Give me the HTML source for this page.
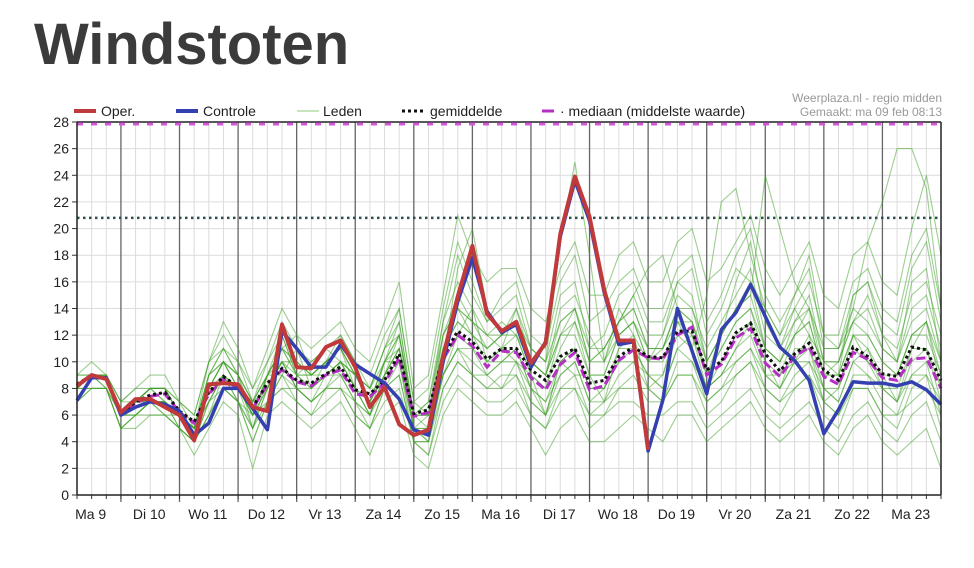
<!DOCTYPE html>
<html><head><meta charset="utf-8">
<style>
body{margin:0;background:#fff;width:974px;height:568px;overflow:hidden;font-family:"Liberation Sans",sans-serif}
h1{position:absolute;left:34px;top:11px;margin:0;font-size:58px;font-weight:bold;color:#3b3b3b}
svg{position:absolute;left:0;top:0}
</style></head><body>
<h1>Windstoten</h1>
<svg id="c" width="974" height="568"></svg>
<script>
const dayLabels=["Ma 9","Di 10","Wo 11","Do 12","Vr 13","Za 14","Zo 15","Ma 16","Di 17","Wo 18","Do 19","Vr 20","Za 21","Zo 22","Ma 23"];
const yTicks=[0,2,4,6,8,10,12,14,16,18,20,22,24,26,28];
const threshold=20.8;
const oper=[8.2,9.0,8.7,6.2,7.2,7.2,6.6,6.0,4.1,8.3,8.4,8.3,6.6,6.3,12.8,9.6,9.5,11.1,11.6,9.6,6.6,8.1,5.3,4.5,4.9,10.4,14.9,18.7,13.6,12.3,13.0,9.9,11.4,19.6,23.9,20.9,15.4,11.6,11.6,3.4];
const controle=[7.1,8.8,8.8,6.0,6.6,7.0,6.8,6.3,4.5,5.4,8.0,8.0,6.5,4.9,12.3,11.0,9.6,9.6,11.3,9.8,9.1,8.4,7.2,4.9,4.5,10.0,14.5,17.8,13.8,12.2,12.8,9.6,11.5,19.4,23.6,20.6,15.2,11.3,11.5,3.3,7.1,14.0,10.8,7.6,12.4,13.7,15.8,13.4,11.1,10.1,8.6,4.6,6.4,8.5,8.4,8.4,8.2,8.5,7.9,6.8];
const gemiddelde=[8.3,9.0,8.7,6.1,7.0,7.5,7.7,6.3,5.5,7.7,8.9,8.1,6.6,8.4,9.5,8.6,8.4,9.1,9.6,7.9,7.6,8.6,10.6,6.1,6.4,10.4,12.3,11.5,10.2,11.0,11.0,9.4,8.6,10.4,11.0,8.4,8.6,10.4,11.1,10.4,10.3,12.3,12.3,9.4,10.0,12.2,12.9,10.6,9.3,10.6,11.4,9.4,8.6,11.1,10.4,9.1,8.9,11.1,10.9,8.6];
const mediaan=[8.2,8.9,8.7,6.1,6.9,7.4,7.6,6.2,5.4,7.6,8.7,8.0,6.5,8.3,9.4,8.5,8.2,9.0,9.4,7.6,7.4,8.4,10.3,5.9,6.2,10.2,12.0,11.2,9.6,10.8,10.7,8.8,7.9,9.8,10.7,7.9,8.2,10.1,10.9,10.3,10.2,12.0,12.6,9.0,9.8,11.8,12.5,9.9,8.9,10.4,11.1,8.9,8.3,10.7,10.2,8.8,8.6,10.2,10.3,8.0];
const member1=[8,9,9,6,7,8,8,6,5,9,11,9,7,9,11,10,9,10,11,9,8,11,13,6,7,13,16,14,12,13,12,10,9,13,14,10,11,13,15,12,12,15,14,11,13,15,17,12,11,13,15,10,10,14,13,11,10,14,15,11];
const member2=[8,9,9,6,6,7,7,5,4,7,8,7,6,7,8,8,7,8,8,6,5,8,9,4,4,8,10,9,8,9,9,7,6,8,8,6,7,8,8,8,7,9,9,7,8,9,10,8,7,8,9,7,6,8,8,6,6,7,8,6];
const member3=[9,10,9,7,8,9,9,7,6,10,12,10,8,10,13,11,10,11,12,10,9,12,14,7,8,14,19,16,13,15,16,12,11,16,18,13,14,16,17,14,14,17,18,13,15,18,20,15,13,15,18,12,12,16,17,14,13,18,20,14];
const member4=[8,8,8,5,6,7,6,6,4,6,9,7,5,8,10,8,7,9,10,8,6,9,11,5,5,9,11,10,9,10,11,8,7,9,10,7,8,10,10,9,8,11,10,8,9,10,11,9,8,10,10,8,7,10,9,8,7,9,9,7];
const member5=[8,9,9,6,7,8,8,6,5,8,10,8,6,9,12,9,9,10,11,8,7,10,12,5,6,11,13,12,11,12,12,9,8,11,13,9,9,12,13,11,11,14,13,9,11,13,14,11,10,12,13,9,9,12,11,9,9,12,12,9];
const member6=[8,9,8,6,7,7,7,6,5,8,9,8,7,8,10,9,8,9,10,8,7,9,11,6,6,10,17,20,14,12,14,11,10,19,25,18,10,12,13,10,11,13,12,9,12,14,16,11,10,12,14,9,10,13,12,10,9,12,13,10];
const member7=[8,9,9,6,7,8,7,6,5,9,10,8,6,9,11,9,9,9,10,9,8,10,12,6,6,11,14,12,11,12,13,10,9,12,13,10,11,13,15,17,18,14,11,15,22,23,18,14,12,14,16,12,11,13,15,12,11,15,16,12];
const member8=[8,9,9,6,7,8,8,6,5,8,10,9,7,9,11,10,9,10,11,9,8,11,12,6,7,12,14,13,11,12,13,11,10,13,14,11,11,13,14,11,11,14,13,10,12,14,15,24,20,16,14,11,11,14,19,22,26,26,23,14];
const member9=[7,8,8,5,5,6,6,5,3,5,7,6,2,6,7,6,5,6,7,5,3,6,7,3,2,6,8,7,6,6,7,5,3,5,6,4,4,5,6,5,4,6,6,4,5,6,7,5,4,5,6,4,3,5,6,4,3,4,5,2];
const member10=[8,9,9,6,7,7,7,6,5,7,9,8,6,8,10,8,8,9,9,8,6,9,10,5,5,9,12,11,10,10,11,8,7,10,11,8,8,10,11,9,9,12,11,8,9,11,13,9,9,10,12,8,8,11,10,8,8,11,11,8];
const member11=[9,9,9,7,8,8,8,7,6,10,13,11,8,11,14,12,11,12,13,11,10,13,16,8,9,15,21,18,16,17,17,14,13,17,19,15,15,18,19,16,16,19,20,16,17,19,21,17,15,17,19,15,14,18,19,16,15,20,24,18];
const member12=[7,8,8,5,6,6,6,5,4,6,8,7,4,7,8,7,6,7,8,6,5,7,8,4,3,7,9,8,7,7,8,6,5,7,8,5,6,7,7,6,6,7,7,5,6,7,8,6,5,6,7,5,4,6,7,5,4,6,7,4];
const member13=[8,9,9,6,6,7,7,6,4,8,10,9,5,9,9,11,8,10,9,7,6,10,10,4,4,10,12,14,10,11,10,9,6,10,9,9,7,11,12,8,9,13,11,8,10,12,13,10,8,11,11,7,8,12,10,9,7,11,13,8];
const member14=[8,9,8,6,7,8,8,6,5,9,11,10,7,10,12,9,10,11,10,9,7,9,12,6,5,12,15,13,12,11,14,10,9,14,15,12,10,14,12,10,12,16,15,10,12,16,19,13,11,14,12,10,9,15,16,12,10,16,17,10];
const member15=[8,9,9,6,7,7,7,6,5,7,9,7,5,7,9,7,6,8,9,7,6,8,10,5,4,9,11,9,9,8,10,7,6,9,10,7,7,9,10,8,7,10,10,7,8,10,11,8,7,9,10,7,6,9,9,7,6,9,10,6];
const member16=[9,9,9,6,7,8,8,7,5,10,11,9,6,8,11,12,9,10,12,10,8,11,14,7,6,13,18,15,13,14,15,11,10,15,16,11,12,15,16,13,13,16,17,12,14,17,16,14,12,15,17,11,11,15,16,13,12,17,19,13];
const member17=[7,9,9,6,6,7,6,5,4,7,9,8,5,8,10,8,7,8,10,8,6,9,11,5,4,9,11,11,9,10,10,8,6,10,11,8,8,11,11,9,8,11,12,8,9,11,12,9,8,10,11,8,7,10,11,8,7,10,11,7];
const member18=[8,9,9,6,7,8,7,6,5,8,10,8,6,9,11,9,8,9,10,9,7,10,11,6,6,11,13,12,10,11,12,9,8,12,12,9,9,12,13,10,10,13,13,9,11,13,14,10,9,12,13,9,9,12,12,10,9,12,13,9];
const member19=[8,9,9,7,7,8,8,6,5,9,10,9,7,9,10,10,9,10,11,9,7,10,13,6,6,12,14,13,12,12,13,10,9,12,14,10,10,13,14,11,11,14,14,10,12,14,15,11,10,13,14,10,10,13,14,11,10,13,14,10];
const member20=[8,8,8,5,6,7,7,5,4,6,8,7,4,7,9,8,7,8,8,7,5,8,9,4,3,8,10,9,8,8,9,6,5,8,9,6,6,8,9,7,7,9,9,6,7,9,10,7,6,8,9,6,5,8,8,6,5,8,9,5];
const members=[member1,member2,member3,member4,member5,member6,member7,member8,member9,member10,member11,member12,member13,member14,member15,member16,member17,member18,member19,member20];

const NS="http://www.w3.org/2000/svg";
const svgEl=document.getElementById('c');
const X0=77,X1=941,Y0=495,Y1=122,N=60,YMAX=28;
const stepX=(X1-X0)/(N-1);
function xs(i){return X0+i*stepX;}
function ys(v){return Y0-(v/YMAX)*(Y0-Y1);}
function mk(tag,attrs){const e=document.createElementNS(NS,tag);for(const k in attrs)e.setAttribute(k,attrs[k]);svgEl.appendChild(e);return e;}

for(let i=0;i<N;i++){const l=mk('line',{x1:xs(i),x2:xs(i),y1:Y1,y2:Y0,stroke:'#dcdcdc','stroke-width':1});

}
yTicks.forEach(v=>{const l=mk('line',{x1:X0,x2:X1,y1:ys(v),y2:ys(v),stroke:'#dcdcdc','stroke-width':1});


const t=mk('line',{x1:X0-5,x2:X0,y1:ys(v),y2:ys(v),stroke:'#333','stroke-width':1});


const tx=mk('text',{x:X0-8,y:ys(v)+5,'text-anchor':'end','font-size':14,fill:'#222'});tx.textContent=v;

});
for(let d=1;d<dayLabels.length;d++){const i=d*4-1;const l=mk('line',{x1:xs(i),x2:xs(i),y1:Y1,y2:Y0+7,stroke:'#666','stroke-width':1.3});

}
dayLabels.forEach((lab,d)=>{const i=d*4+1;const t=mk('text',{x:xs(i)-1,y:519,'text-anchor':'middle','font-size':14,fill:'#222'});t.textContent=lab;

});
for(let i=0;i<N;i++){const t=mk('line',{x1:xs(i),x2:xs(i),y1:Y0,y2:Y0+4,stroke:'#333','stroke-width':1});

}

function pathD(arr){return arr.map((v,i)=>(i?'L':'M')+xs(i).toFixed(1)+','+ys(v).toFixed(1)).join('');}
members.forEach(m=>{const pm=mk('path',{d:pathD(m),fill:'none',stroke:'rgba(60,160,35,0.5)','stroke-width':1.1});

});
const thr=mk('line',{x1:X0,x2:X1,y1:ys(threshold),y2:ys(threshold),stroke:'#2c4f4f','stroke-width':2.5,'stroke-dasharray':'2.5,3.5'});


let pl=mk('path',{d:pathD(mediaan),fill:'none',stroke:'#b52fc4','stroke-width':3,'stroke-dasharray':'9,4'});


pl=mk('path',{d:pathD(gemiddelde),fill:'none',stroke:'#111','stroke-width':3,'stroke-dasharray':'3,3'});


pl=mk('path',{d:pathD(controle),fill:'none',stroke:'#3540b0','stroke-width':3.5,'stroke-linejoin':'round'});


pl=mk('path',{d:pathD(oper),fill:'none',stroke:'#c0393b','stroke-width':4,'stroke-linejoin':'round'});


const topBorder=mk('line',{x1:X0,x2:X1,y1:Y1,y2:Y1,stroke:'#222','stroke-width':1.5});


const tpk=mk('line',{x1:X0,x2:X1,y1:Y1+2,y2:Y1+2,stroke:'#d25ad8','stroke-width':3,'stroke-dasharray':'6,8'});


const rb=mk('line',{x1:X1,x2:X1,y1:Y1,y2:Y0,stroke:'#222','stroke-width':1.5});


const la=mk('line',{x1:X0,x2:X0,y1:Y1,y2:Y0,stroke:'#222','stroke-width':1.5});


const ba=mk('line',{x1:X0,x2:X1,y1:Y0,y2:Y0,stroke:'#222','stroke-width':1.5});


</script>
<svg width="974" height="130" style="position:absolute;left:0;top:0">
<g><line x1="74" x2="96" y1="111" y2="111" stroke="#c0393b" stroke-width="4"/><text x="101" y="116" font-size="14" fill="#222">Oper.</text></g>
<g><line x1="176" x2="198" y1="111" y2="111" stroke="#3540b0" stroke-width="4"/><text x="203" y="116" font-size="14" fill="#222">Controle</text></g>
<g><line x1="297" x2="319" y1="111" y2="111" stroke="#8fcc80" stroke-width="1"/><text x="323" y="116" font-size="14" fill="#222">Leden</text></g>
<g><line x1="402" x2="424" y1="111" y2="111" stroke="#111" stroke-width="3" stroke-dasharray="3,3"/><text x="430" y="116" font-size="14" fill="#222">gemiddelde</text></g>
<g><line x1="542" x2="554" y1="111" y2="111" stroke="#b52fc4" stroke-width="3"/><text x="560" y="116" font-size="14" fill="#222">· mediaan (middelste waarde)</text></g>
<text x="942" y="102" text-anchor="end" font-size="12" fill="#999">Weerplaza.nl - regio midden</text>
<text x="942" y="116" text-anchor="end" font-size="12" fill="#999">Gemaakt: ma 09 feb 08:13</text>
</svg>
</body></html>
